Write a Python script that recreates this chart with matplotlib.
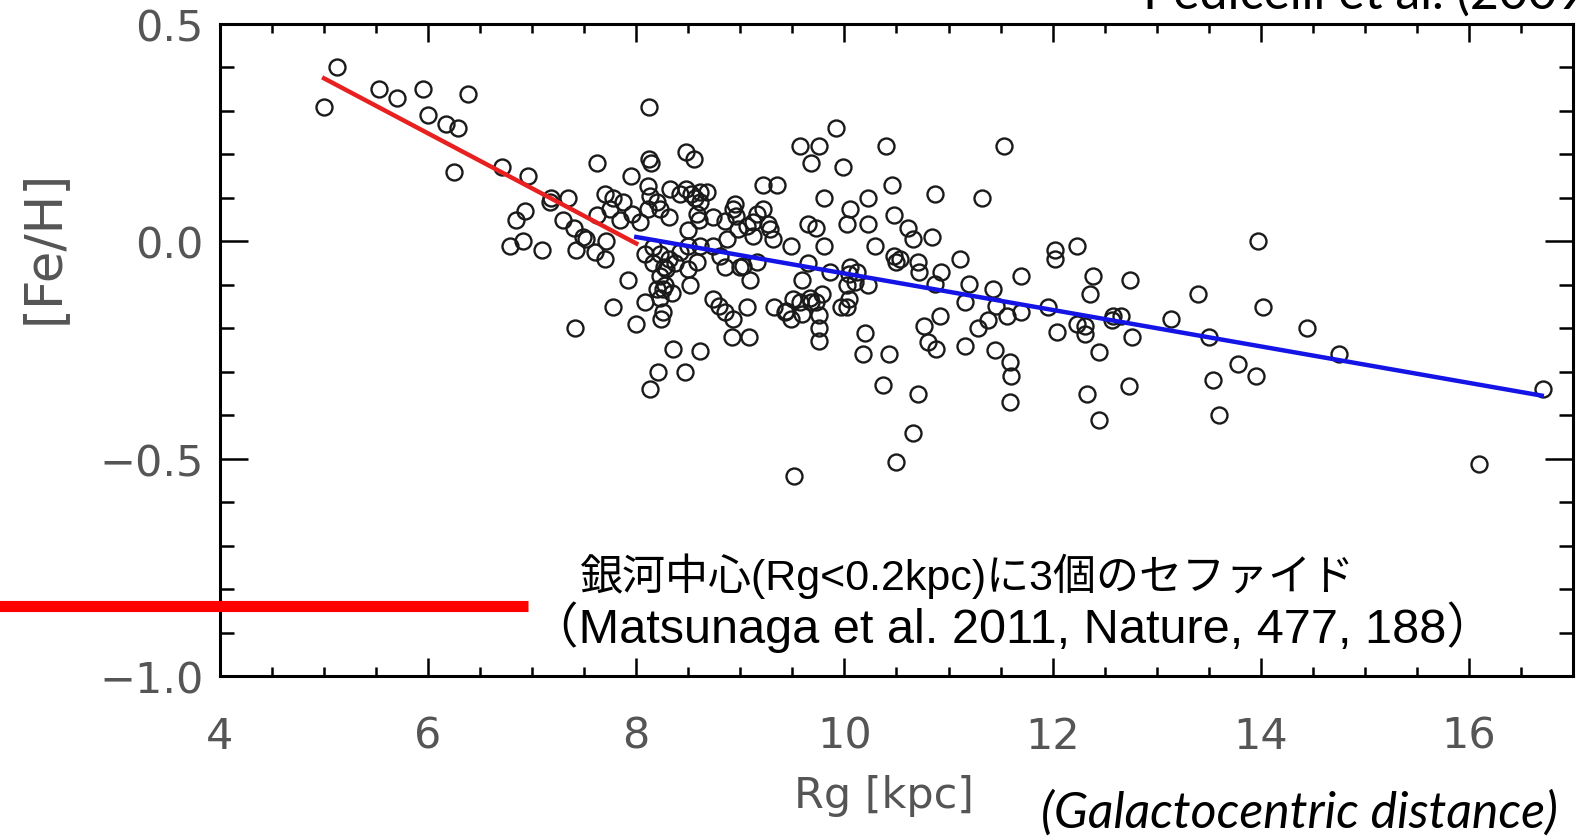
import matplotlib
matplotlib.use("Agg")
import matplotlib.pyplot as plt
from matplotlib.ticker import MultipleLocator

# Cepheids: galactocentric distance [kpc] and [Fe/H]
rg = [5.00, 5.12, 5.53, 5.70, 5.95, 6.00, 6.17, 6.29, 6.38, 6.25, 6.71, 6.96, 7.18, 7.34,
      7.17, 6.93, 6.84, 6.79, 6.91, 7.09, 7.30, 7.40, 7.49, 7.42, 7.62, 7.41,
      8.12, 9.92, 9.57, 9.76, 9.68, 9.99, 8.12, 8.14, 8.48, 8.55, 7.95, 9.22, 9.35, 9.80,
      10.23, 10.05, 10.23, 10.29, 9.65, 9.73, 10.02, 9.80, 9.49, 9.59, 9.65, 9.86, 10.05,
      10.12, 10.23, 10.02, 10.02, 10.20, 10.18, 7.52, 7.60, 7.70, 7.71, 7.70, 7.78, 7.875,
      7.75, 7.62, 7.84, 7.955, 8.035, 8.115, 8.13, 8.195, 8.23, 8.115, 8.32, 8.42, 8.48,
      8.56, 8.61, 8.68, 8.31, 8.50, 8.60, 8.74, 8.85, 8.93, 8.96, 9.06, 9.16, 9.22, 9.28,
      9.12, 9.31, 8.87, 8.74, 8.61, 8.50, 8.16, 8.23, 8.31, 8.16, 8.27, 8.37, 8.42, 8.08,
      8.23, 8.28, 8.20, 8.34, 8.50, 8.58, 8.80, 8.85, 9.03, 9.16, 9.09, 8.52, 7.92, 7.78,
      8.08, 8.23, 8.26, 8.24, 8.00, 8.74, 8.79, 8.85, 8.93, 9.06, 8.92, 9.08, 9.32, 9.43,
      9.49, 9.57, 9.67, 9.73, 9.76, 9.76, 9.76, 9.97, 10.04, 8.355, 8.61, 8.21, 8.47, 8.13,
      9.52,
      10.40, 11.53, 10.46, 10.87, 11.32, 10.48, 10.61, 10.66, 10.84, 10.48, 10.53, 10.50,
      10.71, 10.72, 10.93, 10.87, 11.11, 11.20, 11.16, 11.43, 11.46, 11.38, 11.28, 11.56,
      11.70, 11.70, 11.96, 12.04, 12.02, 12.02, 12.23, 12.23, 12.31, 12.31, 12.39, 12.36,
      12.58, 12.66, 12.57, 12.74, 12.76, 13.14, 13.40, 13.50, 13.97, 13.78, 13.54, 13.60,
      13.95, 12.45, 12.73, 12.33, 12.45, 10.43, 10.80, 10.88, 10.76, 10.92, 11.16, 11.45,
      11.59, 11.60, 11.59, 10.71, 10.66, 10.50, 10.37,
      14.02, 14.44, 14.75, 16.10, 16.71,
      8.53, 8.61, 8.95, 8.98, 9.27, 8.58, 9.12, 8.995, 8.29, 8.26, 10.04, 10.10, 9.78, 9.51,
      9.44, 9.59, 9.68]
feh = [0.31, 0.40, 0.35, 0.33, 0.35, 0.29, 0.27, 0.26, 0.34, 0.16, 0.17, 0.15, 0.10, 0.10,
       0.09, 0.07, 0.05, -0.01, 0.00, -0.02, 0.05, 0.03, 0.01, -0.02, 0.18, -0.20,
       0.31, 0.26, 0.22, 0.22, 0.18, 0.17, 0.19, 0.18, 0.205, 0.19, 0.15, 0.13, 0.13, 0.10,
       0.10, 0.075, 0.04, -0.01, 0.04, 0.03, 0.04, -0.01, -0.01, -0.09, -0.05, -0.07, -0.06,
       -0.07, -0.10, -0.10, -0.15, -0.21, -0.26, 0.005, -0.025, -0.04, 0.00, 0.11, 0.10, 0.09,
       0.074, 0.06, 0.05, 0.063, 0.044, 0.128, 0.105, 0.09, 0.074, 0.074, 0.12, 0.11, 0.12,
       0.10, 0.09, 0.113, 0.055, 0.025, 0.05, 0.055, 0.047, 0.074, 0.059, 0.036, 0.063, 0.074, 0.028,
       0.013, 0.005, 0.005, -0.01, -0.01, -0.01, -0.014, -0.03, -0.04, -0.05, -0.06, -0.05, -0.025, -0.03,
       -0.08, -0.10, -0.11, -0.12, -0.064, -0.048, -0.033, -0.06, -0.056, -0.048, -0.09, -0.10, -0.09, -0.15,
       -0.14, -0.13, -0.163, -0.178, -0.19, -0.133, -0.148, -0.163, -0.178, -0.152, -0.22, -0.22, -0.15, -0.163,
       -0.178, -0.14, -0.13, -0.14, -0.17, -0.20, -0.23, -0.15, -0.133, -0.248, -0.252, -0.30, -0.30, -0.34,
       -0.54,
       0.22, 0.22, 0.13, 0.11, 0.10, 0.06, 0.03, 0.005, 0.01, -0.033, -0.04, -0.048,
       -0.048, -0.071, -0.071, -0.098, -0.04, -0.098, -0.14, -0.11, -0.148, -0.182, -0.20, -0.171,
       -0.079, -0.163, -0.152, -0.209, -0.021, -0.04, -0.01, -0.19, -0.194, -0.213, -0.079, -0.121,
       -0.171, -0.171, -0.182, -0.09, -0.221, -0.178, -0.121, -0.221, 0.00, -0.282, -0.32, -0.40,
       -0.31, -0.255, -0.332, -0.351, -0.412, -0.26, -0.232, -0.248, -0.194, -0.171, -0.24, -0.251,
       -0.278, -0.309, -0.37, -0.351, -0.44, -0.508, -0.33,
       -0.15, -0.20, -0.259, -0.512, -0.34,
       0.109, 0.113, 0.086, 0.028, 0.04, 0.063, 0.044, -0.06, -0.064, -0.11, -0.075, -0.094, -0.121, -0.133,
       -0.16, -0.167, -0.14]

# linear gradients inside / outside 8 kpc
fit_in_x = [5.0, 8.0]
fit_in_y = [0.375, -0.005]
fit_out_x = [8.0, 16.7]
fit_out_y = [0.01, -0.355]

# galactic centre cepheids marker bar
gc_x = [1.8, 6.96]
gc_y = [-0.84, -0.84]

fig = plt.figure(figsize=(15.85, 8.37), dpi=100)
ax = fig.add_axes([0.1388, 0.1912, 0.8536, 0.7789])

ax.plot(rg, feh, ls='none', marker='o', ms=11.5, mfc='none', mec='#1a1a1a', mew=1.7, zorder=2)
ax.plot(fit_in_x, fit_in_y, color='#e82020', lw=3.2, zorder=3)
ax.plot(fit_out_x, fit_out_y, color='#1414e6', lw=3.2, zorder=3)
ax.plot(gc_x, gc_y, color='#ff0000', lw=8, solid_capstyle='butt', clip_on=False, zorder=4)

ax.set_xlim(4, 17)
ax.set_ylim(-1.0, 0.5)
ax.xaxis.set_major_locator(MultipleLocator(2))
ax.xaxis.set_minor_locator(MultipleLocator(0.5))
ax.yaxis.set_major_locator(MultipleLocator(0.5))
ax.yaxis.set_minor_locator(MultipleLocator(0.1))
ax.tick_params(which='both', direction='in', top=True, right=True, width=1.8,
               labelsize=31, labelcolor='#555555')
ax.tick_params(axis='x', which='major', length=13, pad=28)
ax.tick_params(axis='x', which='minor', length=6.5)
ax.tick_params(axis='y', which='major', length=20, pad=12)
ax.tick_params(axis='y', which='minor', length=10)
for s in ax.spines.values():
    s.set_linewidth(2.2)

ax.set_ylabel('[Fe/H]', fontsize=37, color='#555555')
ax.yaxis.set_label_coords(-0.112, 0.66)
ax.set_xlabel('Rg [kpc]', fontsize=31, color='#555555')
ax.xaxis.set_label_coords(0.491, -0.15)

jp = ['Liberation Sans', 'Noto Sans CJK JP']
ax.text(7.45, -0.768, '銀河中心(Rg<0.2kpc)に3個のセファイド', fontsize=31, family=jp,
        va='center', ha='left')
ax.text(6.98, -0.885, '（Matsunaga et al. 2011, Nature, 477, 188）', fontsize=35, family=jp,
        va='center', ha='left')

fig.text(0.820, 0.028, '(Galactocentric distance)', fontsize=36, style='italic',
         family='Lato', ha='center', va='center')
fig.text(0.721, 1 - 9 / 837, 'Pedicelli et al. (2009)', fontsize=36, family='Lato',
         ha='left', va='baseline')

fig.savefig('out.png', dpi=100)
